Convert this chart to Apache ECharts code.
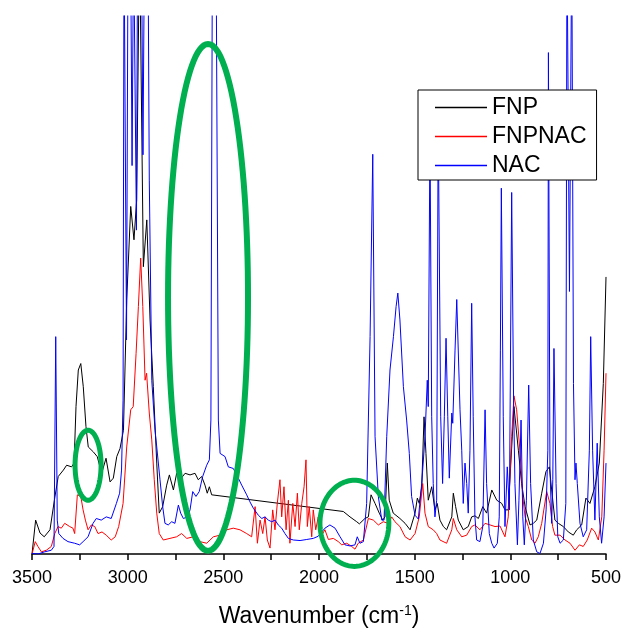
<!DOCTYPE html>
<html>
<head>
<meta charset="utf-8">
<title>FTIR spectra: FNP, FNPNAC, NAC</title>
<script src="https://cdn.jsdelivr.net/npm/echarts@6/dist/echarts.min.js"></script>
<style>
  html, body { margin: 0; padding: 0; background: #fff; }
  #chart { width: 623px; height: 628px; }
</style>
</head>
<body>
<div id="chart"></div>
<script>
// Transmittance-style traces, [wavenumber (cm-1), intensity (a.u., 0-100 window)]
const fnp = [
  [3500,0],[3481,6.3],[3458,3.9],[3436,3.2],[3406,4.5],[3383,10.0],[3363,14.4],[3336,15.6],
  [3319,16.5],[3293,16.2],[3280,16.9],[3270,27.4],[3258,34.2],[3245,35.4],[3232,31.1],[3218,23.7],
  [3206,19.9],[3180,19.0],[3159,18.1],[3136,15.0],[3113,17.8],[3092,13.4],[3075,14.1],[3057,18.1],
  [3040,19.6],[3022,23.0],[3005,47.2],[2984,64.6],[2967,58.4],[2953,65.8],[2938,115],[2930,115],
  [2918,53.4],[2900,62.1],[2883,43.5],[2866,31.1],[2848,16.9],[2835,7.6],[2817,8.8],[2796,12.8],
  [2782,14.7],[2761,11.9],[2744,15.0],[2726,13.8],[2700,15.0],[2674,14.7],[2648,15.0],[2631,13.8],
  [2613,14.4],[2596,12.8],[2584,11.3],[2573,12.5],[2561,11.0],[1873,7.9],[1838,6.9],[1803,6.0],
  [1789,5.6],[1760,6.6],[1742,6.9],[1728,11.0],[1707,9.4],[1685,7.6],[1667,6.3],[1655,6.9],
  [1643,16.9],[1633,10.0],[1612,7.6],[1577,6.6],[1550,5.7],[1524,4.5],[1498,7.6],[1486,10.4],
  [1476,9.4],[1463,12.5],[1451,25.5],[1441,18.7],[1429,10.0],[1411,12.5],[1394,8.2],[1382,9.4],
  [1368,6.3],[1350,5.1],[1333,4.5],[1306,6.9],[1298,11.3],[1286,8.8],[1272,6.3],[1246,4.5],
  [1220,5.1],[1202,6.9],[1185,7.1],[1167,6.6],[1144,8.8],[1124,7.6],[1097,11.9],[1071,10.0],
  [1045,9.4],[1028,8.2],[1011,8.2],[981,27.4],[958,19.3],[941,13.1],[923,8.8],[897,5.4],
  [880,5.7],[862,6.3],[836,11.3],[814,15.3],[796,16.2],[784,11.9],[767,6.3],[749,5.7],
  [723,5.1],[697,4.1],[671,3.5],[653,4.5],[627,5.4],[605,10.4],[584,9.4],[558,12.5],
  [535,16.9],[514,31.7],[500,51.5]
];

const fnpnac = [
  [3500,0],[3483,2.3],[3469,1.4],[3451,0.4],[3425,0.7],[3399,1.4],[3381,3.8],[3364,5.1],
  [3347,4.8],[3329,5.7],[3303,5.1],[3286,4.8],[3277,3.8],[3263,11.0],[3245,10.7],[3233,8.2],
  [3221,6.3],[3207,4.5],[3190,5.4],[3172,5.1],[3155,3.8],[3134,4.1],[3112,3.5],[3086,2.6],
  [3065,3.2],[3047,5.1],[3024,9.4],[3005,19.9],[2984,26.8],[2971,27.4],[2956,37.3],[2944,46.0],
  [2932,55.0],[2921,46.0],[2909,32.3],[2901,33.6],[2887,26.2],[2874,21.2],[2861,13.8],[2848,7.6],
  [2835,3.8],[2814,2.6],[2779,2.9],[2744,3.2],[2718,3.8],[2691,2.9],[2657,3.2],[2622,2.3],
  [2587,2.0],[2552,3.2],[2517,3.5],[2482,4.5],[2448,4.8],[2413,4.5],[2378,3.8],[2352,3.2],
  [2334,8.8],[2322,2.0],[2308,6.3],[2294,3.8],[2282,6.9],[2270,2.6],[2256,1.1],[2242,8.2],
  [2230,4.5],[2218,9.4],[2204,13.8],[2195,6.9],[2183,12.5],[2172,4.5],[2160,10.0],[2152,2.0],
  [2137,9.4],[2125,5.1],[2113,11.3],[2103,4.5],[2090,9.4],[2078,12.5],[2068,17.5],[2061,5.1],
  [2051,8.8],[2038,3.2],[2030,8.2],[2017,4.5],[2004,6.9],[1991,3.2],[1969,4.5],[1951,2.7],
  [1925,2.9],[1899,2.3],[1881,1.7],[1855,2.0],[1829,1.4],[1812,0.9],[1795,2.0],[1768,2.6],
  [1742,6.6],[1716,6.3],[1690,5.4],[1664,6.0],[1638,5.7],[1620,6.9],[1603,6.0],[1577,5.1],
  [1550,3.2],[1524,2.6],[1498,3.8],[1476,6.9],[1458,13.1],[1446,7.6],[1429,5.1],[1403,4.5],
  [1385,3.8],[1368,2.6],[1333,2.0],[1306,4.5],[1298,6.6],[1280,4.5],[1254,3.2],[1228,3.5],
  [1202,5.1],[1185,5.4],[1159,4.5],[1132,5.7],[1106,5.4],[1080,5.1],[1054,5.2],[1028,3.2],
  [1011,6.9],[993,21.8],[981,29.4],[967,26.8],[950,19.3],[935,10.7],[923,6.9],[906,5.1],
  [888,2.6],[871,2.0],[854,3.2],[836,5.7],[810,11.6],[793,9.4],[779,5.1],[767,3.5],
  [740,3.5],[714,2.6],[688,2.0],[662,0.7],[639,1.7],[619,1.4],[598,2.6],[575,4.8],
  [558,4.1],[540,2.6],[522,6.9],[510,19.3],[500,33.6]
];

const nac = [
  [3500,0.1],[3469,0],[3434,0.4],[3399,0.7],[3385,1.4],[3376,40.4],[3368,6.3],[3360,3.8],
  [3338,2.9],[3312,2.3],[3277,2.0],[3251,1.7],[3233,2.3],[3207,3.2],[3181,5.7],[3164,6.6],
  [3138,6.3],[3112,6.9],[3086,6.6],[3059,9.4],[3042,11.3],[3032,15.6],[3024,28.6],[3019,115],
  [3014,115],[3006,39.8],[2998,115],[2985,115],[2977,72.2],[2969,115],[2959,115],[2954,60.2],
  [2948,115],[2928,115],[2920,74.2],[2912,115],[2894,115],[2887,69.5],[2874,32.3],[2857,23.0],
  [2848,19.9],[2831,13.8],[2817,8.8],[2805,5.7],[2788,5.4],[2770,6.0],[2753,5.7],[2735,9.1],
  [2723,7.6],[2709,6.6],[2688,6.9],[2674,8.2],[2660,11.6],[2643,10.7],[2626,11.6],[2608,14.4],
  [2587,16.5],[2573,17.5],[2565,24.9],[2557,115],[2538,115],[2526,24.9],[2517,18.7],[2491,18.1],
  [2474,16.2],[2448,15.9],[2430,14.7],[2404,12.8],[2378,11.0],[2361,9.7],[2343,8.5],[2317,7.2],
  [2299,6.6],[2282,6.9],[2265,6.3],[2247,6.0],[2230,6.3],[2213,5.4],[2195,4.8],[2178,3.8],
  [2160,2.9],[2134,2.6],[2099,2.5],[2064,2.7],[2030,2.9],[2004,3.3],[1969,4.8],[1943,5.4],
  [1916,4.8],[1890,3.2],[1864,1.7],[1838,1.5],[1812,1.7],[1800,3.2],[1786,2.0],[1768,2.3],
  [1751,9.4],[1733,40.4],[1719,74.3],[1707,21.8],[1690,10.7],[1672,6.3],[1660,6.3],[1646,21.8],
  [1629,34.2],[1611,40.4],[1597,46.0],[1588,48.5],[1577,43.5],[1559,31.1],[1542,24.9],[1528,18.7],
  [1516,10.7],[1498,7.2],[1481,6.5],[1463,13.1],[1446,21.8],[1434,32.3],[1429,27.4],[1420,78.8],
  [1411,25.5],[1403,13.1],[1394,6.9],[1385,10.0],[1377,80.7],[1364,25.5],[1354,13.1],[1345,25.5],
  [1336,40.1],[1327,25.5],[1319,14.1],[1306,26.2],[1301,24.3],[1289,37.9],[1280,47.3],[1263,26.8],
  [1254,19.3],[1246,9.4],[1237,16.9],[1228,13.1],[1220,7.6],[1211,19.3],[1202,46.6],[1194,25.5],
  [1185,6.9],[1176,2.6],[1159,2.3],[1144,5.1],[1132,26.8],[1124,13.1],[1110,3.8],[1097,2.0],
  [1085,1.1],[1068,2.0],[1058,6.9],[1052,37.9],[1047,68.0],[1037,25.5],[1028,5.1],[1016,16.2],
  [1005,8.2],[993,67.2],[983,28.6],[976,13.1],[963,1.7],[955,10.0],[944,24.9],[935,6.9],
  [927,1.7],[916,10.0],[904,31.4],[894,13.1],[880,2.6],[862,0.4],[845,0.1],[827,2.0],
  [813,8.2],[804,19.3],[801,93.2],[793,16.2],[784,5.7],[778,13.8],[772,38.2],[761,13.1],
  [752,3.2],[740,2.0],[723,2.6],[710,9.4],[704,115],[691,48.8],[679,115],[670,31.7],
  [662,13.8],[657,16.9],[650,13.1],[636,5.7],[619,3.2],[601,4.5],[587,19.3],[580,40.4],
  [570,19.3],[558,6.3],[546,20.6],[535,6.9],[523,2.0],[510,6.9],[500,16.9]
];

const seriesNames = ['FNP', 'FNPNAC', 'NAC'];
const seriesColors = ['#000000', '#ff0000', '#0000ff'];
const tickLabels = [3500, 3000, 2500, 2000, 1500, 1000, 500];

// Highlighted regions: centre wavenumber, centre intensity, half-width (cm-1), half-height (a.u.)
const highlights = [
  [3207, 16.5, 68, 6.5],
  [2580, 47.7, 209, 47.1],
  [1815, 5.7, 180, 8.0]
];
const highlightWidths = [5, 6, 5];

const FONT = '"Liberation Sans", Arial, Helvetica, sans-serif';
const chart = echarts.init(document.getElementById('chart'), null, { renderer: 'canvas' });

function ellipseItem(params, api) {
  const c = api.coord([api.value(0), api.value(1)]);
  const s = api.size([api.value(2), api.value(3)]);
  const pts = [];
  const n = 120;
  for (let i = 0; i < n; i++) {
    const t = (i / n) * Math.PI * 2;
    pts.push([c[0] + s[0] * Math.cos(t), c[1] + s[1] * Math.sin(t)]);
  }
  return {
    type: 'polygon',
    shape: { points: pts },
    style: { fill: 'none', stroke: '#00b050', lineWidth: highlightWidths[params.dataIndex] }
  };
}

const lineSeries = [fnp, fnpnac, nac].map((d, i) => ({
  name: seriesNames[i],
  type: 'line',
  data: d,
  symbol: 'none',
  showSymbol: false,
  clip: true,
  z: 2 + i,
  lineStyle: { color: seriesColors[i], width: 1 },
  itemStyle: { color: seriesColors[i] },
  emphasis: { disabled: true }
}));

chart.setOption({
  animation: false,
  backgroundColor: '#ffffff',
  grid: { left: 32, right: 17, top: 16, bottom: 74, containLabel: false, outerBoundsMode: 'none' },
  xAxis: {
    type: 'value',
    inverse: true,
    min: 500,
    max: 3500,
    interval: 500,
    name: '{a|Wavenumber (cm}{s|-1}{a|)}',
    nameLocation: 'middle',
    nameGap: 50,
    nameTextStyle: {
      rich: {
        a: { fontFamily: FONT, fontSize: 23, color: '#000', lineHeight: 26 },
        s: { fontFamily: FONT, fontSize: 14, color: '#000', verticalAlign: 'top', lineHeight: 15 }
      }
    },
    axisLine: { show: true, onZero: false, lineStyle: { color: '#000', width: 1.5 } },
    axisTick: { show: true, inside: false, length: 6, lineStyle: { color: '#000', width: 1.5 } },
    minorTick: { show: true, splitNumber: 2, length: 6, lineStyle: { color: '#000', width: 1.5 } },
    splitLine: { show: false },
    axisLabel: {
      show: true,
      margin: 15,
      fontFamily: FONT,
      fontSize: 18,
      color: '#000',
      showMinLabel: true,
      showMaxLabel: true,
      formatter: v => (tickLabels.indexOf(v) >= 0 ? String(v) : '')
    }
  },
  yAxis: {
    type: 'value',
    min: 0,
    max: 100,
    show: false,
    splitLine: { show: false }
  },
  legend: {
    data: seriesNames,
    orient: 'vertical',
    left: 418,
    top: 90,
    z: 10,
    padding: [6, 10, 3, 17],
    itemGap: 6,
    icon: 'rect',
    itemWidth: 52,
    itemHeight: 1.5,
    backgroundColor: '#ffffff',
    borderColor: '#000000',
    borderWidth: 1,
    selectedMode: false,
    textStyle: { fontFamily: FONT, fontSize: 23, color: '#000', lineHeight: 22 }
  },
  series: lineSeries.concat([{
    name: 'regions',
    type: 'custom',
    coordinateSystem: 'cartesian2d',
    data: highlights,
    encode: { x: 0, y: 1 },
    clip: false,
    z: 8,
    silent: true,
    renderItem: ellipseItem
  }])
});
</script>
</body>
</html>
